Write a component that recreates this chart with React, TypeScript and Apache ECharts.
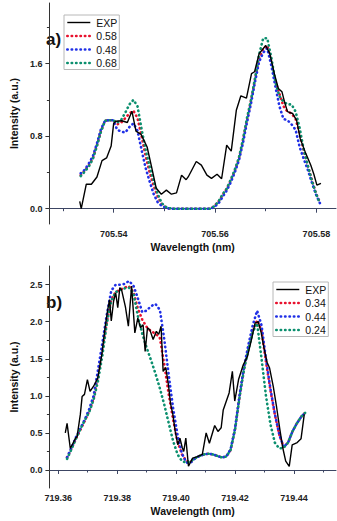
import React, { useEffect, useRef } from "react";
import * as echarts from "echarts";

// ---------- panel a) ----------
const expAX = [705.5333, 705.5336, 705.5346, 705.5356, 705.5367, 705.5377, 705.5386, 705.5395, 705.54, 705.5404, 705.5416, 705.5427, 705.5436, 705.5444, 705.5454, 705.5466, 705.5475, 705.5484, 705.5494, 705.5504, 705.5514, 705.5524, 705.5534, 705.5543, 705.5547, 705.5563, 705.5573, 705.5584, 705.5593, 705.5604, 705.5613, 705.5623, 705.5632, 705.5642, 705.5651, 705.5662, 705.5672, 705.5678, 705.5687, 705.57, 705.5708, 705.5717, 705.5725, 705.5732, 705.5737, 705.5743, 705.5753, 705.5761, 705.5768, 705.5779, 705.5789, 705.5795, 705.5801, 705.5809];
const expAY = [0.08, 0.0, 0.27, 0.27, 0.35, 0.53, 0.56, 0.69, 0.94, 0.965, 0.97, 0.95, 1.075, 0.855, 0.82, 0.68, 0.455, 0.225, 0.16, 0.205, 0.16, 0.175, 0.37, 0.32, 0.35, 0.52, 0.48, 0.37, 0.335, 0.38, 0.33, 0.7, 0.635, 1.085, 1.245, 1.22, 1.49, 1.51, 1.71, 1.8, 1.71, 1.49, 1.325, 1.29, 1.18, 1.07, 1.05, 0.975, 0.775, 0.61, 0.48, 0.38, 0.26, 0.28];

const fitAX = [
  705.5335, 705.5343, 705.5351, 705.5359, 705.5367, 705.5375, 705.5383, 705.5391, 705.5399, 705.5407,
  705.5415, 705.5423, 705.5431, 705.5439, 705.5447, 705.5455, 705.5463, 705.5471, 705.5479, 705.5487,
  705.5495, 705.5503, 705.5511, 705.5519, 705.5527, 705.5535, 705.5543, 705.5551, 705.5559, 705.5567,
  705.5575, 705.5583, 705.5591, 705.5599, 705.5607, 705.5615, 705.5623, 705.5631, 705.5639, 705.5647,
  705.5655, 705.5663, 705.5671, 705.5679, 705.5687, 705.5695, 705.5703, 705.5711, 705.5719, 705.5727,
  705.5735, 705.5743, 705.5751, 705.5759, 705.5767, 705.5775, 705.5783, 705.5791, 705.5799, 705.5807,
];
const fitA058 = [
  0.37, 0.42, 0.48, 0.56, 0.7, 0.86, 0.97, 0.975, 0.975, 0.93,
  0.95, 1.0, 1.05, 1.08, 1.0, 0.8, 0.58, 0.4, 0.25, 0.13,
  0.05, 0.015, 0, 0, 0, 0, 0, 0, 0, 0,
  0, 0, 0, 0.03, 0.08, 0.15, 0.22, 0.31, 0.42, 0.55,
  0.75, 0.98, 1.19, 1.43, 1.66, 1.76, 1.8, 1.62, 1.4, 1.27,
  1.13, 1.07, 1.05, 0.99, 0.83, 0.64, 0.47, 0.32, 0.17, 0.07,
];
const fitA048 = [
  0.39, 0.43, 0.5, 0.58, 0.72, 0.88, 0.97, 0.975, 0.975, 0.87,
  0.85, 0.84, 0.9, 0.94, 0.86, 0.65, 0.45, 0.3, 0.16, 0.07,
  0.03, 0.01, 0, 0, 0, 0, 0, 0, 0, 0,
  0, 0, 0, 0.02, 0.06, 0.13, 0.2, 0.29, 0.4, 0.53,
  0.72, 0.95, 1.16, 1.4, 1.62, 1.72, 1.77, 1.58, 1.35, 1.13,
  0.99, 0.975, 0.93, 0.87, 0.68, 0.55, 0.43, 0.29, 0.16, 0.06,
];
const fitA068 = [
  0.36, 0.41, 0.465, 0.55, 0.69, 0.85, 0.97, 0.975, 0.975, 0.95,
  0.98, 1.06, 1.15, 1.2, 1.13, 0.88, 0.65, 0.46, 0.3, 0.16,
  0.06, 0.02, 0.005, 0, 0, 0, 0, 0, 0, 0,
  0, 0, 0, 0.03, 0.08, 0.16, 0.22, 0.32, 0.43, 0.56,
  0.76, 1.0, 1.2, 1.44, 1.7, 1.88, 1.88, 1.67, 1.4, 1.24,
  1.18, 1.15, 1.15, 1.07, 0.89, 0.65, 0.48, 0.31, 0.17, 0.06,
];

// ---------- panel b) ----------
const expBX = [719.3624, 719.363, 719.3641, 719.3659, 719.3664, 719.3675, 719.3681, 719.3689, 719.3699, 719.3708, 719.372, 719.3734, 719.3748, 719.3759, 719.3767, 719.3774, 719.378, 719.3788, 719.3795, 719.3802, 719.3809, 719.3815, 719.3828, 719.3838, 719.3849, 719.386, 719.387, 719.3879, 719.3888, 719.3895, 719.3903, 719.3911, 719.3922, 719.3933, 719.3941, 719.3949, 719.3956, 719.3965, 719.3974, 719.3981, 719.3989, 719.3997, 719.4006, 719.4013, 719.4021, 719.4026, 719.4033, 719.4042, 719.4056, 719.4072, 719.4089, 719.4102, 719.4113, 719.4131, 719.4142, 719.4153, 719.416, 719.418, 719.4191, 719.4199, 719.4212, 719.4228, 719.4242, 719.4257, 719.4268, 719.4279, 719.4289, 719.4298, 719.4309, 719.4317, 719.433, 719.4341, 719.4352, 719.4362, 719.4372, 719.4384, 719.4394, 719.4411, 719.4424, 719.4435];
const expBY = [0.5, 0.63, 0.29, 0.43, 0.45, 0.75, 0.99, 1.02, 1.22, 1.06, 1.13, 1.24, 1.56, 1.92, 2.14, 2.3, 2.01, 2.28, 2.39, 2.19, 2.46, 2.43, 2.2, 1.94, 2.48, 1.85, 2.05, 1.92, 1.96, 1.6, 1.92, 1.89, 1.76, 1.87, 1.83, 1.94, 1.33, 1.38, 1.15, 0.9, 0.75, 0.52, 0.34, 0.43, 0.3, 0.25, 0.43, 0.05, 0.16, 0.18, 0.21, 0.5, 0.36, 0.6, 0.52, 0.57, 0.81, 1.04, 1.33, 0.93, 1.22, 1.42, 1.53, 1.78, 1.98, 2.0, 1.85, 1.65, 1.45, 1.38, 1.12, 0.85, 0.55, 0.3, 0.12, 0.05, 0.34, 0.37, 0.42, 0.75];

const fitBX = [
  719.363, 719.3645, 719.366, 719.3675, 719.369, 719.3705, 719.372, 719.3735, 719.375, 719.3765,
  719.378, 719.3795, 719.381, 719.3825, 719.384, 719.3855, 719.387, 719.3885, 719.39, 719.3915,
  719.393, 719.3945, 719.396, 719.3975, 719.399, 719.4005, 719.402, 719.4035, 719.405, 719.4065,
  719.408, 719.4095, 719.411, 719.4125, 719.414, 719.4155, 719.417, 719.4185, 719.42, 719.4215,
  719.423, 719.4245, 719.426, 719.4275, 719.429, 719.4305, 719.432, 719.4335, 719.435, 719.4365,
  719.438, 719.4395, 719.441, 719.4425, 719.444,
];
const fitB034 = [
  0.17, 0.29, 0.42, 0.54, 0.66, 0.79, 0.96, 1.28, 1.64, 2.0,
  2.3, 2.4, 2.43, 2.46, 2.48, 2.4, 2.18, 2.03, 1.93, 1.87,
  1.84, 1.78, 1.42, 1.02, 0.68, 0.38, 0.21, 0.12, 0.11, 0.16,
  0.19, 0.21, 0.22, 0.21, 0.19, 0.17, 0.18, 0.27, 0.55, 0.98,
  1.36, 1.65, 1.88, 2.02, 1.88, 1.46, 1.08, 0.75, 0.48, 0.31,
  0.37, 0.52, 0.63, 0.72, 0.78,
];
const fitB044 = [
  0.17, 0.3, 0.44, 0.56, 0.68, 0.82, 1.0, 1.35, 1.72, 2.1,
  2.42, 2.5, 2.5, 2.51, 2.55, 2.49, 2.32, 2.13, 2.15, 2.21,
  2.24, 2.16, 1.76, 1.28, 0.83, 0.47, 0.22, 0.1, 0.1, 0.16,
  0.19, 0.21, 0.22, 0.21, 0.19, 0.17, 0.18, 0.28, 0.56, 1.0,
  1.38, 1.68, 1.95, 2.15, 1.95, 1.5, 1.1, 0.76, 0.48, 0.31,
  0.37, 0.52, 0.63, 0.72, 0.78,
];
const fitB024 = [
  0.15, 0.28, 0.42, 0.55, 0.67, 0.78, 0.95, 1.2, 1.55, 1.98,
  2.28, 2.4, 2.43, 2.45, 2.46, 2.39, 2.08, 1.84, 1.65, 1.48,
  1.3, 1.1, 0.88, 0.63, 0.39, 0.21, 0.12, 0.1, 0.12, 0.16,
  0.19, 0.21, 0.22, 0.21, 0.19, 0.17, 0.18, 0.27, 0.54, 0.97,
  1.34, 1.62, 1.86, 1.98, 1.5, 1.0, 0.62, 0.37, 0.29, 0.3,
  0.37, 0.52, 0.63, 0.72, 0.78,
];

// ---------- ticks ----------
const ticksAX = [705.54, 705.56, 705.58];
const minorAX = [705.53, 705.55, 705.57];
const ticksAY = [0, 0.8, 1.6];
const minorAY = [0.4, 1.2, 2.0];
const ticksBX = [719.36, 719.38, 719.4, 719.42, 719.44];
const minorBX = [719.37, 719.39, 719.41, 719.43, 719.45];
const ticksBY = [0, 0.5, 1.0, 1.5, 2.0, 2.5];
const minorBY = [0.25, 0.75, 1.25, 1.75, 2.25];

const namesA = ["EXP", "0.58", "0.48", "0.68"];
const namesB = ["EXP", "0.34", "0.44", "0.24"];

const FONT = "Arial, 'Liberation Sans', sans-serif";
const RED = "#e8112d";
const BLUE = "#1f2fe6";
const GREEN = "#0b8f6e";
const XAXIS_COLOR = "#3c4563";
const YAXIS_COLOR = "#333";

const zip = (xs: number[], ys: number[]) => xs.map((x, i) => [x, ys[i]]);

const dotted = (color: string) => ({ color, width: 2.6, type: [0.4, 4.0], cap: "round" as const });

function xAxes(gridIndex: number, min: number, max: number, ticks: number[], minor: number[]) {
  const line = { color: XAXIS_COLOR, width: 1 };
  return [
    {
      type: "value", gridIndex, min, max, position: "bottom",
      name: "Wavelength (nm)", nameLocation: "middle", nameGap: 17,
      nameTextStyle: { fontFamily: FONT, fontWeight: "bold", fontSize: 10.5, color: "#111" },
      axisLine: { show: true, lineStyle: line },
      axisTick: { show: true, inside: false, length: 4, customValues: ticks, lineStyle: line },
      axisLabel: {
        customValues: ticks, margin: 5, formatter: (v: number) => v.toFixed(2),
        fontFamily: FONT, fontWeight: "bold", fontSize: 9, color: "#222",
      },
      splitLine: { show: false },
    },
    {
      type: "value", gridIndex, min, max, position: "bottom", offset: 0,
      axisLine: { show: false },
      axisTick: { show: true, inside: false, length: 2.5, customValues: minor, lineStyle: line },
      axisLabel: { show: false },
      splitLine: { show: false },
    },
  ];
}

function yAxes(gridIndex: number, min: number, max: number, ticks: number[], minor: number[]) {
  const line = { color: YAXIS_COLOR, width: 1 };
  return [
    {
      type: "value", gridIndex, min, max, position: "left",
      name: "Intensity (a.u.)", nameLocation: "middle", nameGap: 21,
      nameTextStyle: { fontFamily: FONT, fontWeight: "bold", fontSize: 10.5, color: "#111" },
      axisLine: { show: true, lineStyle: line },
      axisTick: { show: true, inside: false, length: 4, customValues: ticks, lineStyle: line },
      axisLabel: {
        customValues: ticks, margin: 7, formatter: (v: number) => v.toFixed(1),
        fontFamily: FONT, fontWeight: "bold", fontSize: 9, color: "#222",
      },
      splitLine: { show: false },
    },
    {
      type: "value", gridIndex, min, max, position: "left", offset: 0,
      axisLine: { show: false },
      axisTick: { show: true, inside: false, length: 2.5, customValues: minor, lineStyle: line },
      axisLabel: { show: false },
      splitLine: { show: false },
    },
  ];
}

function panelSeries(
  names: string[], xi: number, yi: number,
  expX: number[], expY: number[], fitX: number[], fits: number[][], z0: number
) {
  const colors = [RED, BLUE, GREEN];
  const out: any[] = [
    {
      type: "line", name: names[0], xAxisIndex: xi, yAxisIndex: yi,
      data: zip(expX, expY), symbol: "none", z: z0 + 4,
      lineStyle: { color: "#000", width: 1.4 }, itemStyle: { color: "#000" },
    },
  ];
  fits.forEach((ys, k) => {
    out.push({
      type: "line", name: names[k + 1], xAxisIndex: xi, yAxisIndex: yi,
      data: zip(fitX, ys), symbol: "none", z: z0 + k,
      lineStyle: dotted(colors[k]), itemStyle: { color: colors[k] },
    });
  });
  return out;
}

function legendOf(names: string[], left: number, top: number) {
  return {
    orient: "vertical", left, top, padding: [2, 2, 1, 2], itemGap: 2.5,
    itemWidth: 23, itemHeight: 10, borderColor: "#b8b8b8", borderWidth: 1,
    backgroundColor: "#fff", selectedMode: false,
    textStyle: { fontFamily: FONT, fontSize: 10.5, color: "#111", padding: [0, 0, 0, 1] },
    lineStyle: { width: "inherit" },
    itemStyle: { opacity: 0, borderWidth: 0, color: "transparent" },
    data: names,
  };
}

export default function App() {
  const ref = useRef<HTMLDivElement>(null);
  useEffect(() => {
    if (!ref.current) return;
    const chart = echarts.init(ref.current, undefined, { renderer: "svg" });
    const option: any = {
      animation: false,
      backgroundColor: "#fff",
      grid: [
        { left: 34, top: 3, width: 302, height: 221 },
        { left: 34, top: 266, width: 302, height: 222 },
      ],
      xAxis: [
        ...xAxes(0, 705.52732, 705.58387, ticksAX, minorAX),
        ...xAxes(1, 719.357005, 719.45427, ticksBX, minorBX),
      ],
      yAxis: [
        ...yAxes(0, -0.1687, 2.268, ticksAY, minorAY),
        ...yAxes(1, -0.243, 2.752, ticksBY, minorBY),
      ],
      legend: [legendOf(namesA, 64, 15), legendOf(namesB, 273, 282)],
      series: [
        ...panelSeries(namesA, 0, 0, expAX, expAY, fitAX, [fitA058, fitA048, fitA068], 2),
        ...panelSeries(namesB, 2, 2, expBX, expBY, fitBX, [fitB034, fitB044, fitB024], 2),
      ],
      graphic: [
        { type: "text", left: 46, top: 31, style: { text: "a)", font: `bold 17px ${FONT}`, fill: "#111" } },
        { type: "text", left: 46, top: 294, style: { text: "b)", font: `bold 17px ${FONT}`, fill: "#111" } },
      ],
    };
    chart.setOption(option);
    return () => chart.dispose();
  }, []);
  return (
    <div
      ref={ref}
      style={{ position: "fixed", left: 0, top: 0, width: 337, height: 521, background: "#fff" }}
    />
  );
}
